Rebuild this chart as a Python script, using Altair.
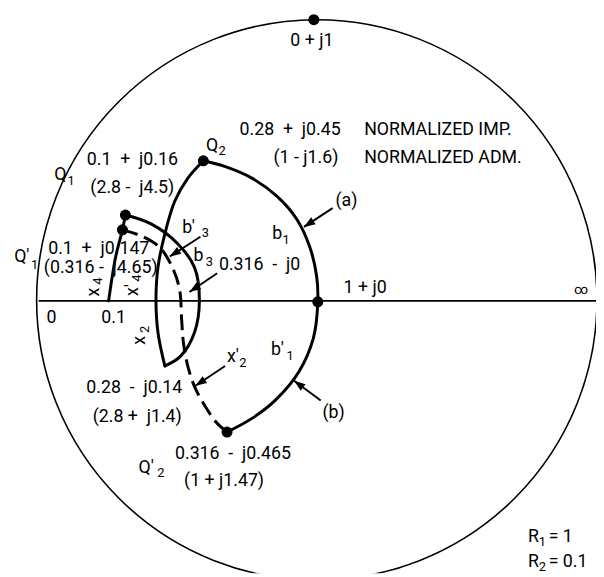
import math
import altair as alt
import pandas as pd

# ---- frame of the diagram (units = picture pixels) ----
X_DOMAIN = [8, 604]
Y_DOMAIN = [8, 577]

# ---- outer Smith-chart circle and real axis ----
circle_cx = [321]
circle_cy = [300]
axis_x = [39]
axis_x2 = [605]
axis_y = [301]

# ---- solid curves ----
curve_ab_x = [206, 227.6, 255.6, 280.5, 300.7, 313.8, 320.8, 322, 317.6, 302.7, 278.8, 255.3, 230]
curve_ab_y = [159, 164.7, 176.8, 194.9, 218.2, 246.1, 275.8, 302, 338.4, 373, 401.8, 420.1, 434]
curve_x2_x = [206, 190, 177, 167, 160, 158, 160, 167]
curve_x2_y = [159, 177, 200, 233, 267, 300, 333, 367]
curve_b3_x = [167, 183, 197, 202, 197, 180, 153, 127]
curve_b3_y = [367, 357, 333, 300, 267, 243, 223, 214]
curve_x4_x = [110, 117, 124, 127]
curve_x4_y = [301, 257, 229, 214]
# ---- dashed curve Q'1 -> Q'2 ----
dash_x = [124, 145, 162, 175, 182, 184, 186, 191, 198, 208, 219, 230]
dash_y = [229, 236, 247, 268, 290, 320, 345, 370, 390, 408, 424, 434]

# ---- marked points ----
dot_x = [318, 206, 127, 124, 322, 230]
dot_y = [16, 159, 214, 229, 302, 434]

# ---- arrows (tail -> tip) ----
arrow_x = [337, 325, 203, 220, 228]
arrow_y = [207, 402, 236, 273, 367]
arrow_x2 = [308, 298, 172, 192, 198]
arrow_y2 = [226, 382, 256, 292, 387]

NB = "\u00a0"
# ---- main labels (centred) ----
lab_text = ["0 + j1", f"0.28{NB}{NB}+{NB}{NB}j0.45", "(1 - j1.6)",
            f"0.1{NB}{NB}+{NB}{NB}j0.16", f"(2.8 -{NB}{NB}j4.5)", "(a)",
            f"0.316{NB}{NB}-{NB}{NB}j0", "1 + j0", "0", "0.1",
            f"0.1{NB}{NB}+{NB}{NB}j0.147", f"(0.316 -{NB}{NB}j4.65)",
            f"0.28{NB}{NB}-{NB}{NB}j0.14", f"(2.8 +{NB}{NB}j1.4)",
            f"0.316{NB}{NB}-{NB}{NB}j0.465", "(1 + j1.47)", "(b)",
            "Q", "Q", "Q′", "Q′", "b", "b′", "b", "b′", "x′"]
lab_x = [316, 294, 310, 134, 134, 351, 263, 370, 52, 115, 100, 102,
         136, 139, 236, 227, 338,
         61, 215, 22, 148, 281, 191, 201, 281, 236]
lab_y = [38, 128, 156, 158, 187, 200, 265, 288, 318, 318, 248, 268,
         389, 419, 456, 484, 415,
         173, 144, 257, 470, 233, 227, 256, 351, 358]

# infinity mark (drawn smaller)
inf_text = ["∞"]
inf_x = [589]
inf_y = [290]

# left-aligned labels
left_text = ["NORMALIZED IMP.", "NORMALIZED ADM.", "R", "R", "= 1", "= 0.1"]
left_x = [369, 369, 535, 535, 556, 556]
left_y = [128, 156, 540, 566, 540, 566]

# subscripts
sub_text = ["1", "2", "1", "2", "1", "3", "3", "1", "2", "1", "2"]
sub_x = [72, 225, 35, 163, 290, 208, 212, 294, 246, 549.5, 549.5]
sub_y = [180, 149, 265, 476, 239, 232, 262, 357, 364, 545, 571]

# rotated labels (reading bottom to top)
rot_text = ["x", "x′", "x"]
rot_x = [95, 135, 142]
rot_y = [292, 290, 341]
rot_sub_text = ["4", "4", "2"]
rot_sub_x = [99, 139, 147]
rot_sub_y = [281, 278, 330]

FONT = "Roboto"

xs = alt.Scale(domain=X_DOMAIN, nice=False, zero=False)
ys = alt.Scale(domain=Y_DOMAIN, nice=False, zero=False, reverse=True)
X = lambda f: alt.X(f, type="quantitative", scale=xs, axis=None)
Y = lambda f: alt.Y(f, type="quantitative", scale=ys, axis=None)

# tables
circle_df = pd.DataFrame({"x": circle_cx, "y": circle_cy})
axis_df = pd.DataFrame({"x": axis_x, "x2": axis_x2, "y": axis_y})

rows = []
for name, cx, cy in [("ab", curve_ab_x, curve_ab_y), ("x2", curve_x2_x, curve_x2_y),
                     ("b3", curve_b3_x, curve_b3_y), ("x4", curve_x4_x, curve_x4_y)]:
    for i, (a, b) in enumerate(zip(cx, cy)):
        rows.append({"curve": name, "i": i, "x": a, "y": b})
solid_df = pd.DataFrame(rows)
dash_df = pd.DataFrame({"x": dash_x, "y": dash_y, "i": range(len(dash_x))})
dots_df = pd.DataFrame({"x": dot_x, "y": dot_y})

arrows_df = pd.DataFrame({"x": arrow_x, "y": arrow_y, "x2": arrow_x2, "y2": arrow_y2})
arrows_df["ang"] = [
    (math.degrees(math.atan2(x2 - x1, -(y2 - y1))) + 360) % 360
    for x1, y1, x2, y2 in zip(arrow_x, arrow_y, arrow_x2, arrow_y2)
]

lab_df = pd.DataFrame({"t": lab_text, "x": lab_x, "y": lab_y})
inf_df = pd.DataFrame({"t": inf_text, "x": inf_x, "y": inf_y})
left_df = pd.DataFrame({"t": left_text, "x": left_x, "y": left_y})
sub_df = pd.DataFrame({"t": sub_text, "x": sub_x, "y": sub_y})
rot_df = pd.DataFrame({"t": rot_text, "x": rot_x, "y": rot_y})
rot_sub_df = pd.DataFrame({"t": rot_sub_text, "x": rot_sub_x, "y": rot_sub_y})

outer = alt.Chart(circle_df).mark_point(
    shape="circle", size=568 * 568, filled=False, stroke="black", strokeWidth=1.6,
    opacity=1, clip=True
).encode(x=X("x"), y=Y("y"))

axis_rule = alt.Chart(axis_df).mark_rule(color="black", strokeWidth=1.6, clip=True).encode(
    x=X("x"), x2="x2", y=Y("y"))

solid = alt.Chart(solid_df).mark_line(
    color="black", strokeWidth=3, interpolate="catmull-rom", strokeCap="round",
    strokeJoin="round"
).encode(x=X("x"), y=Y("y"), detail="curve:N", order="i:Q")

dashed = alt.Chart(dash_df).mark_line(
    color="black", strokeWidth=3, interpolate="catmull-rom", strokeDash=[16, 7]
).encode(x=X("x"), y=Y("y"), order="i:Q")

dots = alt.Chart(dots_df).mark_point(
    shape="circle", size=125, filled=True, color="black", opacity=1
).encode(x=X("x"), y=Y("y"))

arrow_lines = alt.Chart(arrows_df).mark_rule(color="black", strokeWidth=2).encode(
    x=X("x"), y=Y("y"), x2="x2", y2="y2")

arrow_heads = alt.Chart(arrows_df).mark_point(
    shape="M0,0L0.65,1.8L-0.65,1.8Z", size=160, filled=True, color="black", opacity=1
).encode(x=X("x2"), y=Y("y2"), angle=alt.Angle("ang:Q", scale=None))

labels = alt.Chart(lab_df).mark_text(
    font=FONT, fontSize=18, align="center", baseline="middle", color="black"
).encode(x=X("x"), y=Y("y"), text="t:N")

inf_label = alt.Chart(inf_df).mark_text(
    font=FONT, fontSize=14, align="center", baseline="middle", color="black"
).encode(x=X("x"), y=Y("y"), text="t:N")

left_labels = alt.Chart(left_df).mark_text(
    font=FONT, fontSize=18, align="left", baseline="middle", color="black"
).encode(x=X("x"), y=Y("y"), text="t:N")

subs = alt.Chart(sub_df).mark_text(
    font=FONT, fontSize=13, align="center", baseline="middle", color="black"
).encode(x=X("x"), y=Y("y"), text="t:N")

rot = alt.Chart(rot_df).mark_text(
    font=FONT, fontSize=18, align="center", baseline="middle", color="black", angle=270
).encode(x=X("x"), y=Y("y"), text="t:N")

rot_sub = alt.Chart(rot_sub_df).mark_text(
    font=FONT, fontSize=13, align="center", baseline="middle", color="black", angle=270
).encode(x=X("x"), y=Y("y"), text="t:N")

chart = alt.layer(
    outer, axis_rule, solid, dashed, dots, arrow_lines, arrow_heads,
    labels, inf_label, left_labels, subs, rot, rot_sub
).properties(
    width=596, height=569, padding=0, autosize=alt.AutoSizeParams(type="none"),
    background="white"
).configure_view(stroke=None)

chart.save("out.html", embed_options={"renderer": "svg", "actions": False})
